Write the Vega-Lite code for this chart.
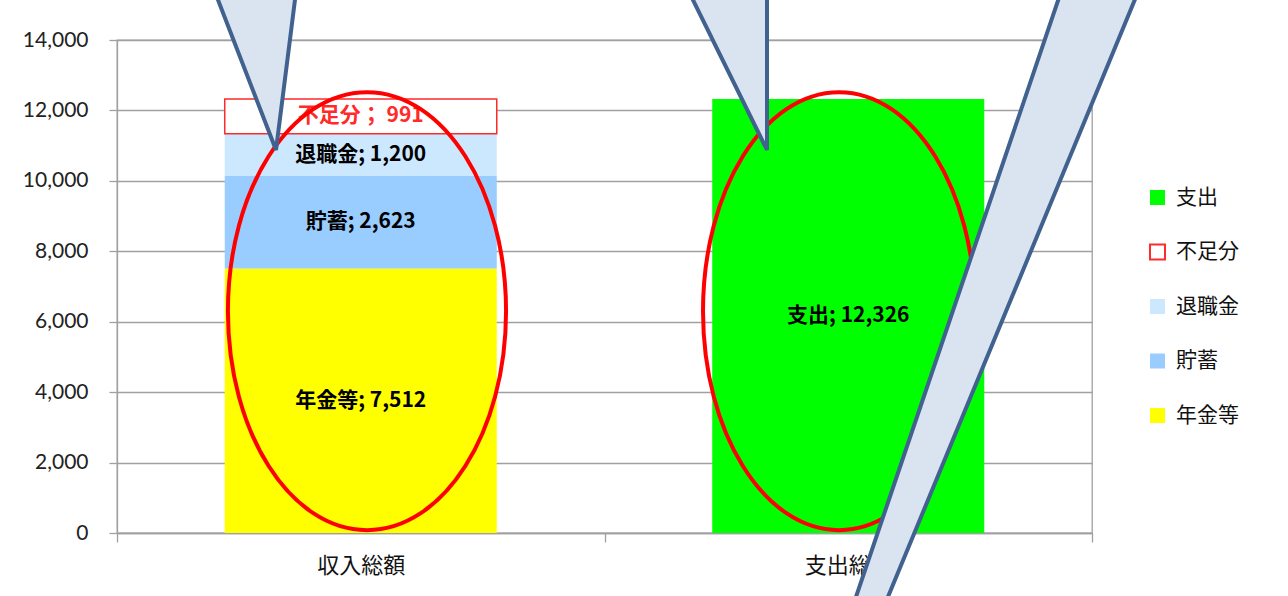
{
  "$schema": "https://vega.github.io/schema/vega-lite/v6.json",
  "width": 975,
  "height": 493,
  "autosize": {"type": "none"},
  "padding": {"left": 117, "top": 40, "right": 196, "bottom": 63},
  "background": "white",
  "datasets": {
    "bars": [
      {"cat": "収入総額", "item": "年金等", "value": 7512, "order": 1, "label": "年金等; 7,512"},
      {"cat": "収入総額", "item": "貯蓄", "value": 2623, "order": 2, "label": "貯蓄; 2,623"},
      {"cat": "収入総額", "item": "退職金", "value": 1200, "order": 3, "label": "退職金; 1,200"},
      {"cat": "収入総額", "item": "不足分", "value": 991, "order": 4, "label": "不足分； 991"},
      {"cat": "支出総額", "item": "支出", "value": 12326, "order": 5, "label": "支出; 12,326"}
    ],
    "ellipses": [
      {"cat": "収入総額", "id": "e1", "yc": 6300},
      {"cat": "支出総額", "id": "e2", "yc": 6300}
    ],
    "callouts": [
      {"cat": "収入総額", "id": "c1", "ya": 10000},
      {"cat": "支出総額", "id": "c2", "ya": 10000},
      {"cat": "支出総額", "id": "c3", "ya": 0}
    ]
  },
  "config": {
    "view": {"stroke": "#a0a0a0", "strokeWidth": 1.3},
    "legend": {
      "orient": "none",
      "legendX": 1030,
      "legendY": 147,
      "symbolType": "square",
      "symbolSize": 225,
      "symbolStrokeWidth": 2,
      "labelFont": "Noto Sans CJK JP",
      "labelFontSize": 21,
      "labelColor": "#111",
      "labelOffset": 8,
      "rowPadding": 31.5,
      "padding": 0,
      "title": null
    }
  },
  "resolve": {"scale": {"shape": "independent"}},
  "layer": [
    {
      "data": {"name": "bars"},
      "mark": {"type": "bar", "width": {"band": 0.558}, "strokeWidth": 1.5},
      "encoding": {
        "x": {
          "field": "cat", "type": "nominal", "sort": ["収入総額", "支出総額"],
          "scale": {"paddingInner": 0, "paddingOuter": 0},
          "axis": {
            "title": null, "labelAngle": 0, "tickBand": "extent", "tickSize": 9,
            "tickColor": "#a0a0a0", "tickWidth": 1.3, "domainColor": "#a0a0a0", "domainWidth": 1.3,
            "labelFont": "Noto Sans CJK JP", "labelFontSize": 22, "labelColor": "#111",
            "labelPadding": 13, "grid": false
          }
        },
        "y": {
          "field": "value", "type": "quantitative", "stack": "zero",
          "scale": {"domain": [0, 14000], "nice": false},
          "axis": {
            "title": null, "values": [0, 2000, 4000, 6000, 8000, 10000, 12000, 14000],
            "format": ",.0f", "labelFont": "Lato", "labelFontSize": 21, "labelColor": "#222",
            "tickSize": 8, "tickColor": "#a0a0a0", "tickWidth": 1.3,
            "domainColor": "#a0a0a0", "domainWidth": 1.3,
            "gridColor": "#a0a0a0", "gridWidth": 1.3, "labelPadding": 21
          }
        },
        "fill": {
          "field": "item", "type": "nominal",
          "scale": {"domain": ["支出", "不足分", "退職金", "貯蓄", "年金等"],
                    "range": ["#00ff00", "#ffffff", "#cce8ff", "#99ccff", "#ffff00"]}
        },
        "stroke": {
          "field": "item", "type": "nominal",
          "scale": {"domain": ["支出", "不足分", "退職金", "貯蓄", "年金等"],
                    "range": ["transparent", "#ff2a2a", "transparent", "transparent", "transparent"]}
        },
        "order": {"field": "order", "type": "quantitative"}
      }
    },
    {
      "data": {"name": "bars"},
      "transform": [
        {"stack": "value", "groupby": ["cat"], "sort": [{"field": "order", "order": "ascending"}], "as": ["v0", "v1"]},
        {"calculate": "(datum.v0 + datum.v1) / 2", "as": "mid"}
      ],
      "mark": {"type": "text", "font": "Noto Sans CJK JP", "fontSize": 21, "fontWeight": "bold", "align": "center", "baseline": "middle"},
      "encoding": {
        "x": {"field": "cat", "type": "nominal", "sort": ["収入総額", "支出総額"]},
        "y": {"field": "mid", "type": "quantitative"},
        "text": {"field": "label"},
        "color": {"condition": {"test": "datum.item === '不足分'", "value": "#ff2a2a"}, "value": "#000000"}
      }
    },
    {
      "data": {"name": "ellipses"},
      "mark": {"type": "point", "filled": false, "stroke": "#ff0000", "strokeWidth": 4, "opacity": 1, "size": 191844},
      "encoding": {
        "x": {"field": "cat", "type": "nominal", "sort": ["収入総額", "支出総額"]},
        "y": {"field": "yc", "type": "quantitative"},
        "shape": {
          "field": "id", "type": "nominal", "legend": null,
          "scale": {"domain": ["e1", "e2"], "range": [
            "M0.0285,-1 C0.3792,-1 0.6635,-0.5523 0.6635,0 C0.6635,0.5523 0.3792,1 0.0285,1 C-0.3222,1 -0.6065,0.5523 -0.6065,0 C-0.6065,-0.5523 -0.3222,-1 0.0285,-1 Z",
            "M-0.0422,-1 C0.3008,-1 0.5788,-0.5523 0.5788,0 C0.5788,0.5523 0.3008,1 -0.0422,1 C-0.3852,1 -0.6632,0.5523 -0.6632,0 C-0.6632,-0.5523 -0.3852,-1 -0.0422,-1 Z"
          ]}
        }
      }
    },
    {
      "data": {"name": "callouts"},
      "mark": {"type": "point", "filled": true, "fill": "#dae4f1", "stroke": "#41628f", "strokeWidth": 4, "opacity": 1, "fillOpacity": 1, "size": 40000},
      "encoding": {
        "x": {"field": "cat", "type": "nominal", "sort": ["収入総額", "支出総額"]},
        "y": {"field": "ya", "type": "quantitative"},
        "shape": {
          "field": "id", "type": "nominal", "legend": null,
          "scale": {"domain": ["c1", "c2", "c3"], "range": [
            "M-0.8475,-0.309 L-1.5045,-2.009 L-0.6325,-2.009 Z",
            "M-0.8125,-0.309 L-1.6515,-2.009 L-0.8125,-2.009 Z",
            "M2.1675,-5.53 L2.9475,-5.53 L0.1775,1.17 L-0.1025,1.17 Z"
          ]}
        }
      }
    }
  ]
}
